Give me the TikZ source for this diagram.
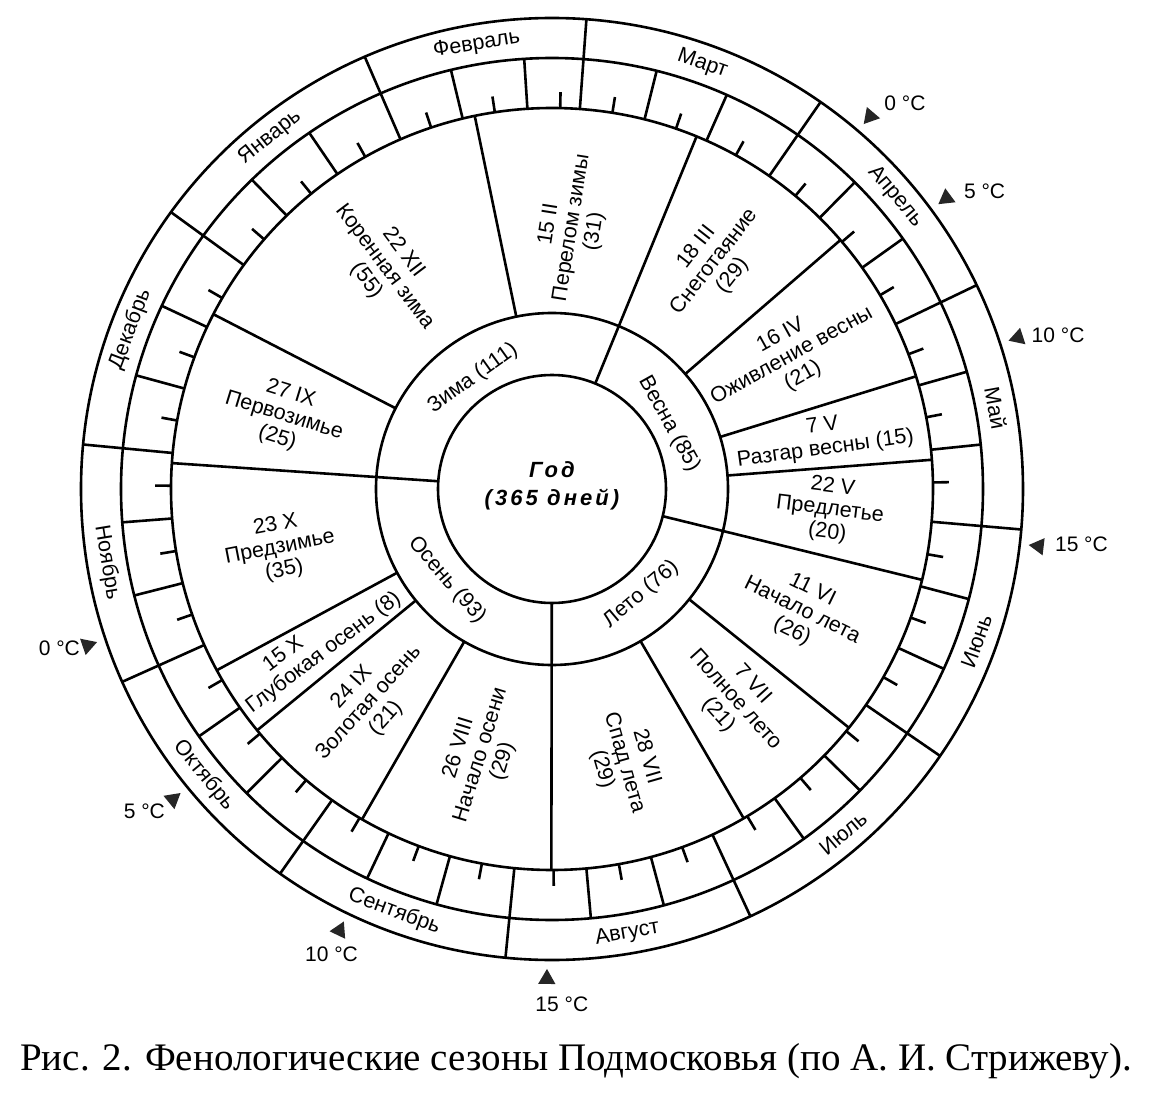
\documentclass[tikz,border=0pt]{standalone}
\usepackage{fontspec}
\setmainfont{Liberation Sans}
\newfontfamily\capfont{Liberation Serif}
\usetikzlibrary{positioning,shapes.geometric}

% radii of the rings
\newcommand{\ROuter}{471}
\newcommand{\RBand}{431}
\newcommand{\RInner}{381}
\newcommand{\RSeason}{176}
\newcommand{\RYear}{114}
% day of the year -> angle
\newcommand{\dayang}[1]{144-(#1)*0.98630}

\begin{document}
\begin{tikzpicture}[
          x=1pt,
          y=1pt,
          ln/.style={line width=2.6pt, black},
          lbl/.style={font=\fontsize{21.5}{23}\selectfont, align=center, inner sep=0pt},
          mon/.style={font=\fontsize{21.5}{23}\selectfont, inner sep=0pt},
          tri/.style={regular polygon, regular polygon sides=3, fill=black!85, inner sep=0pt, minimum size=20pt},
          tl/.style={font=\fontsize{21}{23}\selectfont, inner sep=0pt},
        ]
      \useasboundingbox (-552,-617) rectangle (618,489);
      \draw[ln] (0,0) circle[radius=\ROuter];
      \draw[ln] (0,0) circle[radius=\RBand];
      \draw[ln] (0,0) circle[radius=\RInner];
      \draw[ln] (0,0) circle[radius=\RSeason];
      \draw[ln] (0,0) circle[radius=\RYear];
      % months, ten-day lines and ticks
      \foreach \s/\e/\m/\f in {0/31/Январь/-90, 31/59/Февраль/-90, 59/90/Март/-90,
          90/120/Апрель/-90, 120/151/Май/-90, 151/181/Июнь/90, 181/212/Июль/90,
          212/243/Август/90, 243/273/Сентябрь/90, 273/304/Октябрь/90,
          304/334/Ноябрь/90, 334/365/Декабрь/-90}{
        \draw[ln] ({\dayang{\s}}:\RInner) -- ({\dayang{\s}}:\ROuter);
        \draw[ln] ({\dayang{\s+10}}:\RInner) -- ({\dayang{\s+10}}:\RBand);
        \draw[ln] ({\dayang{\s+20}}:\RInner) -- ({\dayang{\s+20}}:\RBand);
        \foreach \t in {5,15,25}
          \draw[ln] ({\dayang{\s+\t}}:\RInner) -- ({\dayang{\s+\t}}:{\RInner+16});
        \pgfmathsetmacro\ma{\dayang{(\s+\e)/2}}
        \node[mon, rotate=\ma+\f] at (\ma:451) {\m};
      }
      % season and phase borders
      \foreach \a in {67.7,-13.8,-90.1,-183.9}
        \draw[ln] (\a:\RYear) -- (\a:\RInner);
      \foreach \a in {101.7,40.8,17.2,4.4,-38.8,-59.8,-119.9,-140.7,-151.6,-207.3}
        \draw[ln] (\a:\RSeason) -- (\a:\RInner);
      \node[lbl, font=\fontsize{22}{28}\selectfont\bfseries\itshape\addfontfeatures{LetterSpace=14}] (god) at (0,3) {Год\\(365 дней)};
      \node[lbl, rotate=35.6] (zima) at (125.6:136) {Зима (111)};
      \node[lbl, rotate=-60.9] (vesna) at (29.1:134) {Весна (85)};
      \node[lbl, rotate=40.2] (leto) at (-49.8:138) {Лето (76)};
      \node[lbl, rotate=-49.1] (osen) at (-139.1:139) {Осень (93)};
      \node[lbl, rotate=81] (perelom) at (20,261) {15 II\\Перелом зимы\\(31)};
      \node[lbl, rotate=52] (sneg) at (163,227) {18 III\\Снеготаяние\\(29)};
      \node[lbl, rotate=29] (ozhiv) at (240,133) {16 IV\\Оживление весны\\(21)};
      \node[lbl, rotate=8] (razgar) at (272,51) {7 V\\Разгар весны (15)};
      \node[lbl, rotate=-7] (predlet) at (278,-21) {22 V\\Предлетье\\(20)};
      \node[lbl, rotate=-26] (nachleto) at (250,-122) {11 VI\\Начало лета\\(26)};
      \node[lbl, rotate=-48] (polnoe) at (183,-211) {7 VII\\Полное лето\\(21)};
      \node[lbl, rotate=-74] (spad) at (72,-274) {28 VII\\Спад лета\\(29)};
      \node[lbl, rotate=73] (nachosen) at (-71,-266) {26 VIII\\Начало осени\\(29)};
      \node[lbl, rotate=48] (zolot) at (-183,-214) {24 IX\\Золотая осень\\(21)};
      \node[lbl, rotate=37] (glub) at (-235,-155) {15 X\hspace*{66pt}\\Глубокая осень (8)};
      \node[lbl, rotate=11] (predzim) at (-272,-59) {23 X\\Предзимье\\(35)};
      \node[lbl, rotate=-17] (pervozim) at (-268,73) {27 IX\\Первозимье\\(25)};
      \node[lbl, rotate=-53] (koren) at (-167,222) {22 XII\\Коренная зима\\(55)};
      % temperature marks
      \node[tri, shape border rotate=139.5] (t0s) at (49.5:490) {};
      \node[tri, shape border rotate=126.4] (t5s) at (36.4:490) {};
      \node[tri, shape border rotate=108] (t10s) at (18:490) {};
      \node[tri, shape border rotate=83.3] (t15s) at (-6.7:490) {};
      \node[tri, shape border rotate=-0.6] (t15a) at (-90.6:490) {};
      \node[tri, shape border rotate=-25.7] (t10a) at (-115.7:490) {};
      \node[tri, shape border rotate=-50.7] (t5a) at (-140.7:490) {};
      \node[tri, shape border rotate=-71.4] (t0a) at (-161.4:490) {};
      \node[tl, right=6pt of t0s, yshift=13pt] (l0s) {0 °C};
      \node[tl, right=11pt of t5s, yshift=7pt] (l5s) {5 °C};
      \node[tl, right=8pt of t10s, yshift=2pt] (l10s) {10 °C};
      \node[tl, right=11pt of t15s, yshift=2pt] (l15s) {15 °C};
      \node[tl, below=12pt of t15a, xshift=15pt] (l15a) {15 °C};
      \node[tl, below=10pt of t10a, xshift=-8pt] (l10a) {10 °C};
      \node[tl, left=1pt of t5a, yshift=-12pt] (l5a) {5 °C};
      \node[tl, left=2pt of t0a, yshift=-3pt] (l0a) {0 °C};
      \node[anchor=base west, inner sep=0pt, font=\capfont\fontsize{39}{42}\selectfont] (caption) at (-532,-581)
        {Рис. 2. Фенологические сезоны Подмосковья (по А. И. Стрижеву).};
    \end{tikzpicture}
\end{document}
